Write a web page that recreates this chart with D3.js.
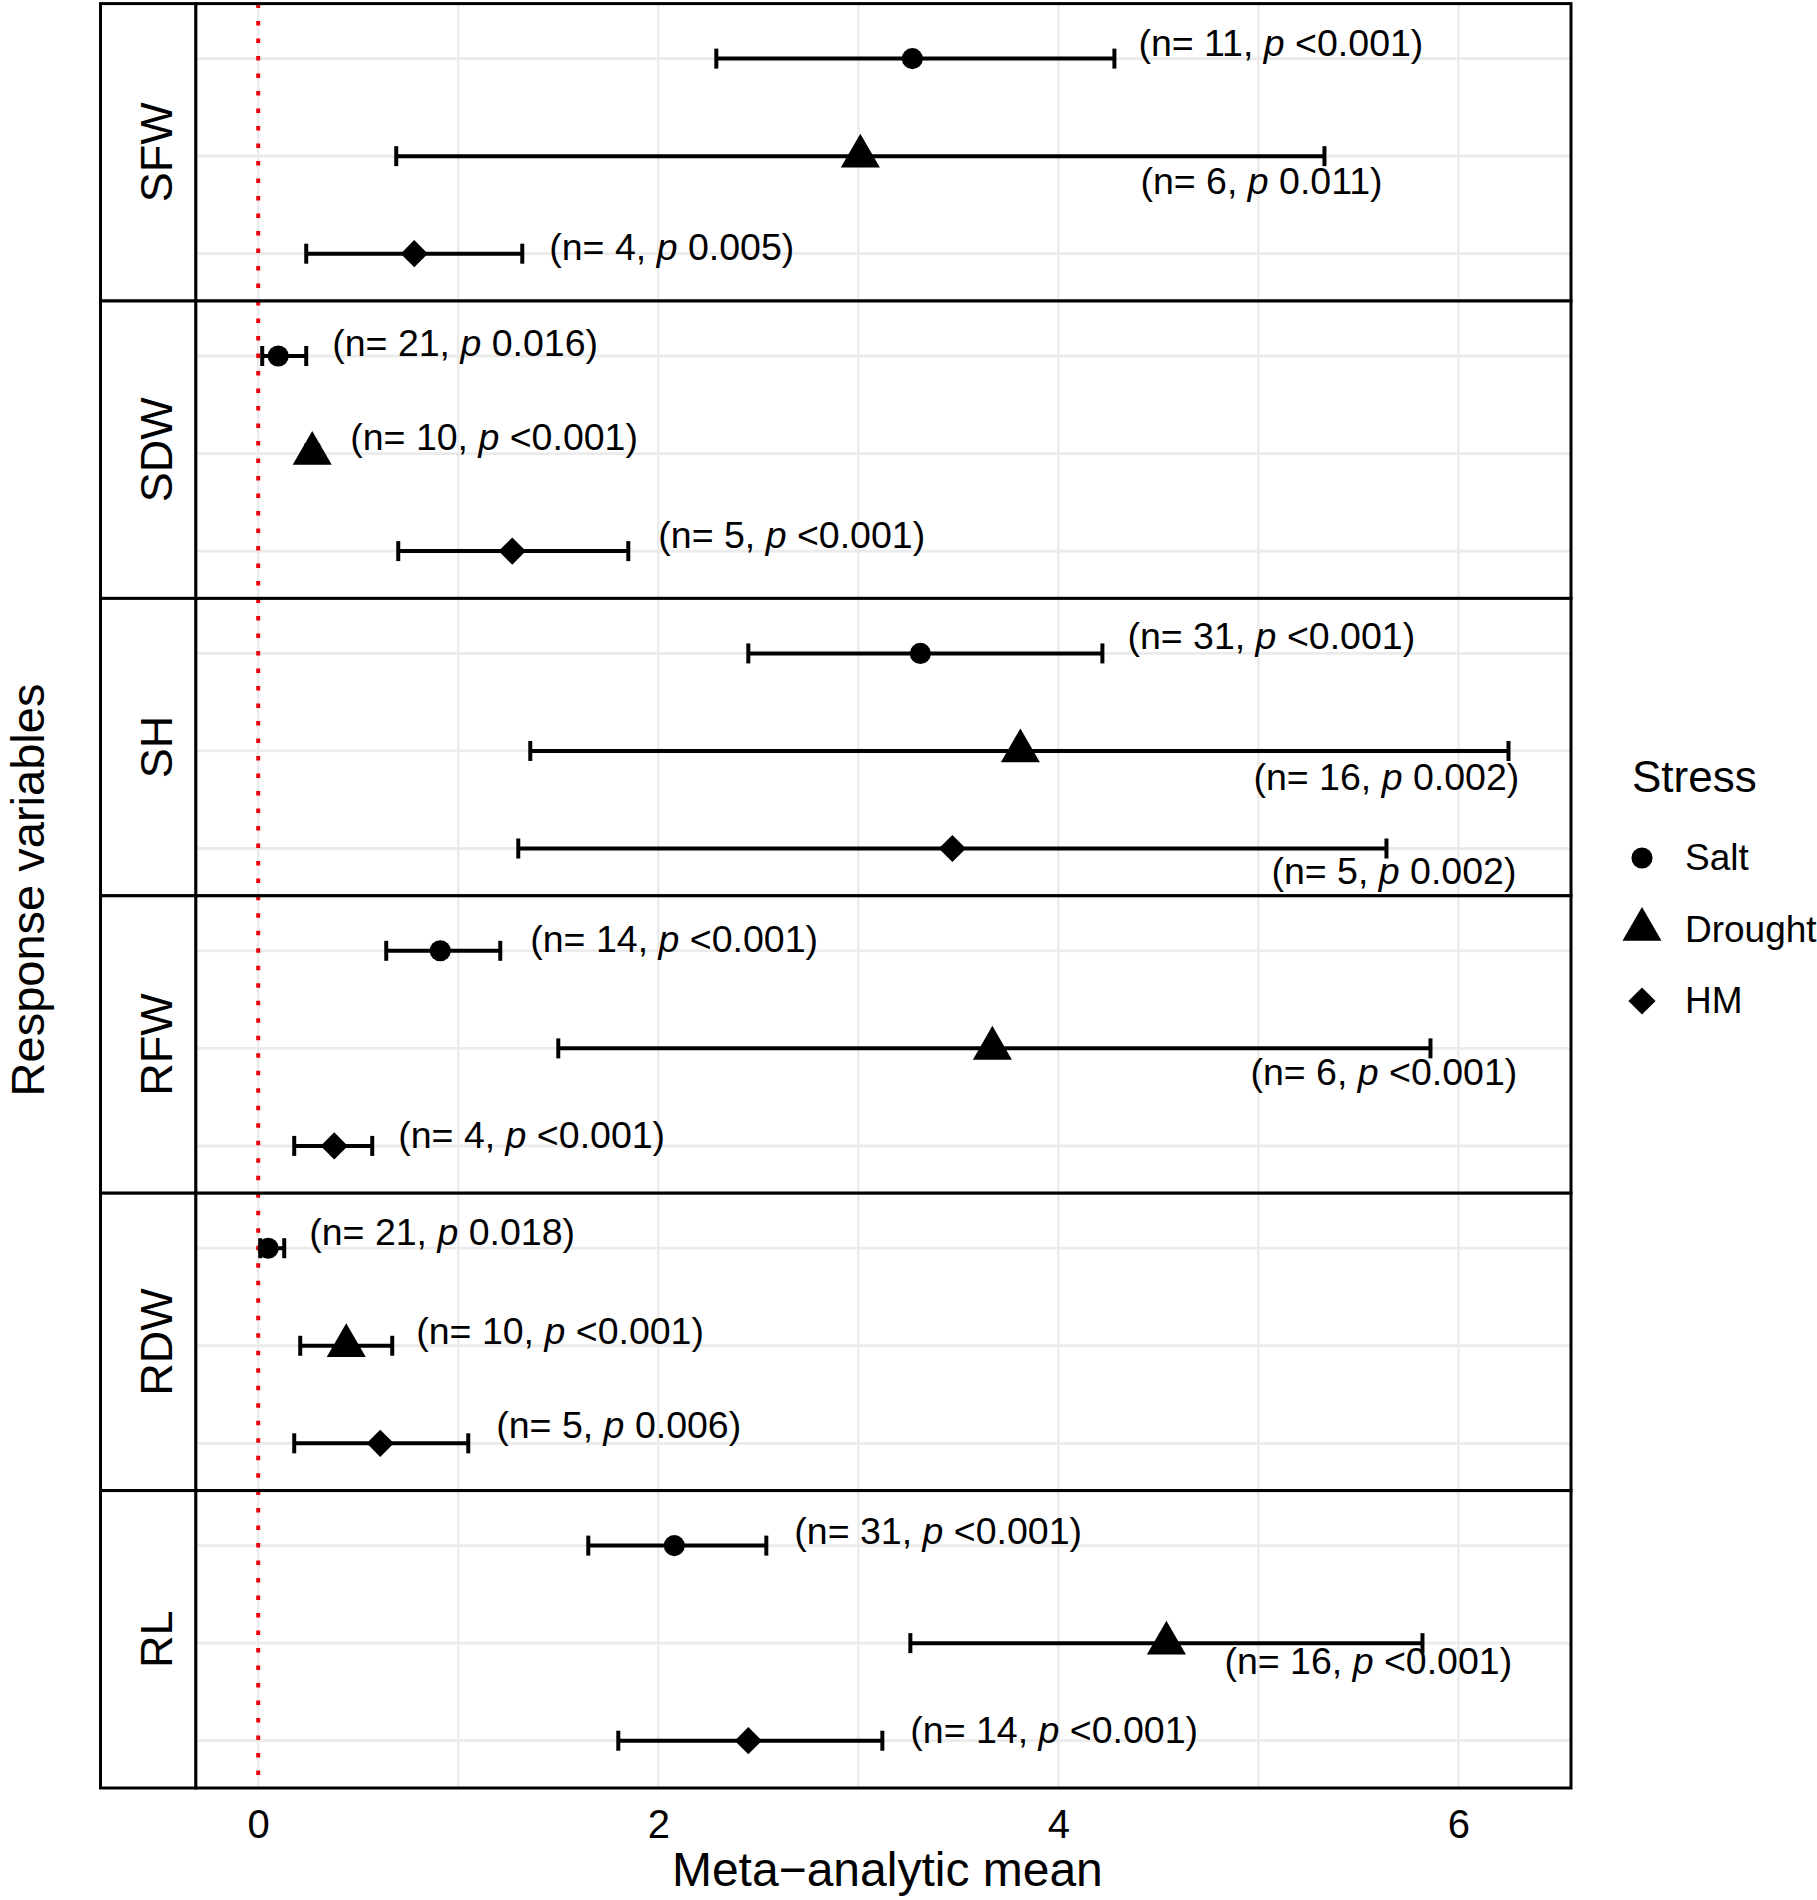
<!DOCTYPE html>
<html>
<head>
<meta charset="utf-8">
<script src="https://cdn.jsdelivr.net/npm/d3@7"></script>
<style>
  body { margin: 0; background: #fff; }
  text { font-family: "Liberation Sans", Arial, Helvetica, sans-serif; fill: #000; }
</style>
</head>
<body>
<div id="chart"></div>
<script>
// response variables (facets) and stress types (rows within a facet)
const variables = ["SFW", "SDW", "SH", "RFW", "RDW", "RL"];
const stresses = ["Salt", "Drought", "HM"];

// one row per variable, columns = Salt, Drought, HM
const meanEst = [
    [3.27, 3.01, 0.78],
    [0.10, 0.27, 1.27],
    [3.31, 3.81, 3.47],
    [0.91, 3.67, 0.38],
    [0.05, 0.44, 0.61],
    [2.08, 4.54, 2.45]
];
const ciLow = [
    [2.29, 0.69, 0.24],
    [0.02, 0.24, 0.70],
    [2.45, 1.36, 1.30],
    [0.64, 1.50, 0.18],
    [0.01, 0.21, 0.18],
    [1.65, 3.26, 1.80]
];
const ciHigh = [
    [4.28, 5.33, 1.32],
    [0.24, 0.30, 1.85],
    [4.22, 6.25, 5.64],
    [1.21, 5.86, 0.57],
    [0.13, 0.67, 1.05],
    [2.54, 5.82, 3.12]
];
const nStudies = [
    [11, 6, 4],
    [21, 10, 5],
    [31, 16, 5],
    [14, 6, 4],
    [21, 10, 5],
    [31, 16, 14]
];
const pValue = [
    ["<0.001", "0.011", "0.005"],
    ["0.016", "<0.001", "<0.001"],
    ["<0.001", "0.002", "0.002"],
    ["<0.001", "<0.001", "<0.001"],
    ["0.018", "<0.001", "0.006"],
    ["<0.001", "<0.001", "<0.001"]
];
// annotation anchor: x in data units, vertical nudge in row units
const labelX = [
    [4.40, 4.41, 1.455],
    [0.37, 0.46, 2.00],
    [4.345, 4.975, 5.065],
    [1.36, 4.96, 0.70],
    [0.255, 0.79, 1.19],
    [2.68, 4.83, 3.26]
];
const labelNudge = [
    [-0.03, 0.39, 0.06],
    [0.00, -0.04, -0.03],
    [-0.05, 0.40, 0.36],
    [0.01, 0.38, 0.02],
    [-0.03, -0.02, -0.05],
    [-0.02, 0.32, 0.02]
];
const xTicks = [0, 2, 4, 6];

// flatten into records
let rows = [];
variables.forEach((v, i) => {
    stresses.forEach((s, j) => {
        rows.push({
            variable: v, stress: s,
            mean: meanEst[i][j], lo: ciLow[i][j], hi: ciHigh[i][j],
            n: nStudies[i][j], p: pValue[i][j],
            lx: labelX[i][j], ln: labelNudge[i][j]
        });
    });
});

const W = 1817, H = 1900;
const margin = { top: 3.6, left: 100.5, stripW: 95.2, right: 246, bottom: 112 };

const svg = d3.select("#chart").append("svg")
    .attr("width", W)
    .attr("height", H);

const plotLeft = margin.left + margin.stripW;
const plotRight = W - margin.right;
const plotBottom = H - margin.bottom;

// x scale with 5% expansion like ggplot
let xMin = Math.min(0, d3.min(rows, d => d.lo));
let xMax = d3.max(rows, d => d.hi);
let pad = (xMax - xMin) * 0.05;
const x = d3.scaleLinear()
    .domain([xMin - pad, xMax + pad])
    .range([plotLeft, plotRight]);

const facet = d3.scaleBand()
    .domain(variables)
    .range([margin.top, plotBottom]);

const bw = facet.bandwidth();
const y = d3.scalePoint()
    .domain(stresses)
    .range([bw * 0.185, bw * 0.841]);

const shape = {
    "Salt": d3.symbol().type(d3.symbolCircle).size(350),
    "Drought": d3.symbol().type(d3.symbolTriangle).size(660),
    "HM": d3.symbol().type(d3.symbolSquare).size(370)
};
const shapeRot = { "Salt": 0, "Drought": 0, "HM": 45 };

const gridColor = "#ebebeb";
const barWidth = 4;

// PANELS
variables.forEach(v => {
    let g = svg.append("g").attr("transform", "translate(0," + facet(v) + ")");
    let data = rows.filter(d => d.variable == v);

    g.append("rect")
        .attr("x", plotLeft).attr("y", 0)
        .attr("width", plotRight - plotLeft).attr("height", bw)
        .attr("fill", "#fff");

    // grid
    g.selectAll(".vgrid").data(x.ticks(7)).enter()
        .append("line")
        .attr("x1", d => x(d)).attr("x2", d => x(d))
        .attr("y1", 0).attr("y2", bw)
        .attr("stroke", gridColor).attr("stroke-width", 2.4);

    g.selectAll(".hgrid").data(stresses).enter()
        .append("line")
        .attr("x1", plotLeft).attr("x2", plotRight)
        .attr("y1", d => y(d)).attr("y2", d => y(d))
        .attr("stroke", gridColor).attr("stroke-width", 2.8);

    // reference line at zero
    g.append("line")
        .attr("x1", x(0)).attr("x2", x(0))
        .attr("y1", 0).attr("y2", bw)
        .attr("stroke", "#e8000b").attr("stroke-width", 4)
        .attr("stroke-dasharray", "4.5 13");

    // error bars
    let eb = g.selectAll(".eb").data(data).enter().append("g");
    eb.append("line")
        .attr("x1", d => x(d.lo)).attr("x2", d => x(d.hi))
        .attr("y1", d => y(d.stress)).attr("y2", d => y(d.stress))
        .attr("stroke", "#000").attr("stroke-width", barWidth);
    eb.append("line")
        .attr("x1", d => x(d.lo)).attr("x2", d => x(d.lo))
        .attr("y1", d => y(d.stress) - 10).attr("y2", d => y(d.stress) + 10)
        .attr("stroke", "#000").attr("stroke-width", barWidth);
    eb.append("line")
        .attr("x1", d => x(d.hi)).attr("x2", d => x(d.hi))
        .attr("y1", d => y(d.stress) - 10).attr("y2", d => y(d.stress) + 10)
        .attr("stroke", "#000").attr("stroke-width", barWidth);

    // points
    g.selectAll(".pt").data(data).enter()
        .append("path")
        .attr("d", d => shape[d.stress]())
        .attr("transform", d => "translate(" + x(d.mean) + "," + y(d.stress) + ") rotate(" + shapeRot[d.stress] + ")")
        .attr("fill", "#000");

    // annotations
    let lab = g.selectAll(".lab").data(data).enter()
        .append("text")
        .attr("x", d => x(d.lx))
        .attr("y", d => y(d.stress) + d.ln * y.step())
        .style("font-size", "37.5px");
    lab.append("tspan").text(d => "(n= " + d.n + ", ");
    lab.append("tspan").style("font-style", "italic").text("p");
    lab.append("tspan").text(d => " " + d.p + ")");

    // panel border
    g.append("rect")
        .attr("x", plotLeft).attr("y", 0)
        .attr("width", plotRight - plotLeft).attr("height", bw)
        .attr("fill", "none").attr("stroke", "#000").attr("stroke-width", 3);

    // strip
    g.append("rect")
        .attr("x", margin.left).attr("y", 0)
        .attr("width", margin.stripW).attr("height", bw)
        .attr("fill", "#fff").attr("stroke", "#000").attr("stroke-width", 3);
    g.append("text")
        .attr("transform", "translate(" + (margin.left + 71.5) + "," + (bw / 2) + ") rotate(-90)")
        .attr("text-anchor", "middle")
        .style("font-size", "45px")
        .text(v);
});

// AXES
const xAxis = svg.append("g")
    .attr("transform", "translate(0," + plotBottom + ")")
    .call(d3.axisBottom(x).tickValues(xTicks).tickFormat(d3.format("d")).tickSize(0).tickPadding(22));
xAxis.select(".domain").remove();
xAxis.selectAll("text")
    .style("font-size", "40px")
    .style("font-family", "'Liberation Sans', Arial, sans-serif")
    .attr("fill", "#000");

// AXES LABELS
svg.append("text")
    .attr("x", (plotLeft + plotRight) / 2 + 4)
    .attr("y", 1886)
    .attr("text-anchor", "middle")
    .style("font-size", "48px")
    .text("Meta\u2212analytic mean");

svg.append("text")
    .attr("transform", "translate(44," + 890 + ") rotate(-90)")
    .attr("text-anchor", "middle")
    .style("font-size", "47px")
    .text("Response variables");

// LEGEND
const legend = svg.append("g").attr("transform", "translate(1632,0)");
legend.append("text")
    .attr("x", 0).attr("y", 792)
    .style("font-size", "44px")
    .text("Stress");

let item = legend.selectAll(".item").data(stresses).enter()
    .append("g")
    .attr("transform", (d, i) => "translate(0," + (870 + i * 71.5) + ")");
item.append("path")
    .attr("d", d => shape[d]())
    .attr("transform", d => "translate(10,-12) rotate(" + shapeRot[d] + ")")
    .attr("fill", "#000");
item.append("text")
    .attr("x", 53).attr("y", 0)
    .style("font-size", "37px")
    .text(d => d);
</script>
</body>
</html>
